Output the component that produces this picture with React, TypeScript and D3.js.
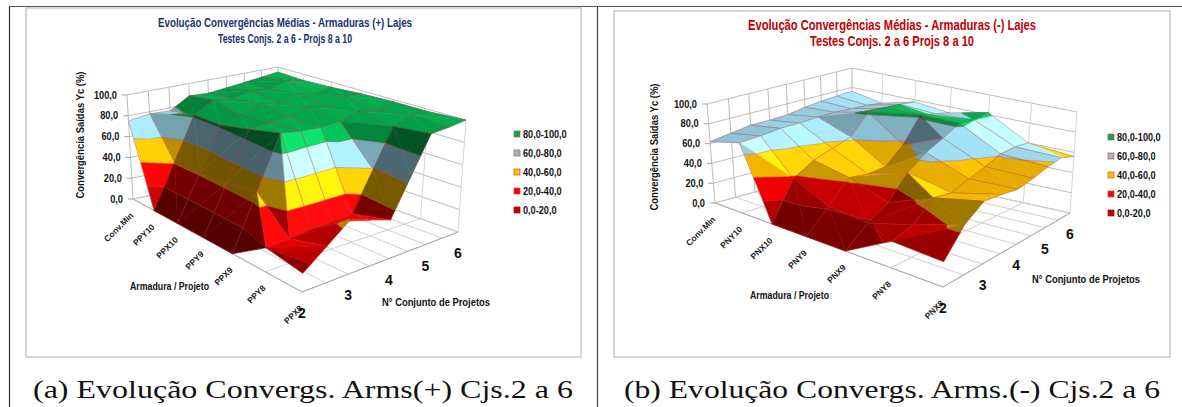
import React from "react";
import * as d3 from "d3";

const seriesLabels = ["2", "", "3", "", "4", "", "5", "", "6"];
const legendLabels = ["80,0-100,0", "60,0-80,0", "40,0-60,0", "20,0-40,0", "0,0-20,0"];
const zTicks = [0, 20, 40, 60, 80, 100];
const bandColors = ["#C00000", "#FF0000", "#FFC000", "#9EDCF0", "#00B050"];

const catsA = ["Conv.Min", "PPY10", "PPX10", "PPY9", "PPX9", "PPY8", "PPX8"];
const catsB = ["Conv.Min", "PNY10", "PNX10", "PNY9", "PNX9", "PNY8", "PNX8"];

// one row per category, one value per half-step of "Conjunto" (2, 2.5 ... 6)
const valuesA = [
  [75, 78, 77, 88, 87, 89, 91, 93, 95],
  [0, 41, 82, 92, 90, 94, 92, 97, 94],
  [0, 41, 82, 87, 94, 90, 96, 92, 95],
  [0, 44, 88, 90, 91, 96, 92, 98, 97],
  [0, 48, 95, 92, 91, 92, 97, 94, 98],
  [20, 21, 23, 24, 25, 59, 93, 99, 98],
  [15, 30, 45, 39, 33, 65, 97, 98, 100],
];
const valuesB = [
  [62, 65, 68, 68, 69, 72, 74, 75, 76],
  [70, 71, 73, 73, 74, 74, 73, 72, 70],
  [0, 38, 50, 56, 62, 82, 81, 80, 78],
  [0, 22, 43, 40, 41, 57, 82, 78, 74],
  [0, 18, 30, 52, 65, 73, 82, 80, 82],
  [24, 30, 47, 44, 50, 55, 61, 62, 60],
  [22, 45, 57, 55, 52, 55, 59, 61, 56],
];

type P = [number, number];
type Quad = { L: P; F: P; R: P; B: P };
type Geo = { floor: Quad; top: Quad };

const geoA: Geo = {
  floor: { L: [133, 199], F: [302, 292], R: [458, 232], B: [278, 168] },
  top: { L: [127, 95], F: [307, 167], R: [466, 120], B: [278, 67] },
};
const geoB: Geo = {
  floor: { L: [715, 203], F: [943, 287], R: [1070, 213], B: [852, 165] },
  top: { L: [707, 104], F: [946, 172], R: [1077, 112], B: [852, 68] },
};

// square -> quad homography; u runs L→F, v runs L→B
function homography(q: Quad) {
  const [x0, y0] = q.L, [x1, y1] = q.F, [x2, y2] = q.R, [x3, y3] = q.B;
  const dx1 = x1 - x2, dx2 = x3 - x2, sx = x0 - x1 + x2 - x3;
  const dy1 = y1 - y2, dy2 = y3 - y2, sy = y0 - y1 + y2 - y3;
  const den = dx1 * dy2 - dx2 * dy1;
  const g = (sx * dy2 - dx2 * sy) / den;
  const h = (dx1 * sy - sx * dy1) / den;
  const a = x1 - x0 + g * x1, b = x3 - x0 + h * x3, c = x0;
  const d = y1 - y0 + g * y1, e = y3 - y0 + h * y3, f = y0;
  return (u: number, v: number): P => {
    const w = g * u + h * v + 1;
    return [(a * u + b * v + c) / w, (d * u + e * v + f) / w];
  };
}

function projector(geo: Geo) {
  const hf = homography(geo.floor), ht = homography(geo.top);
  return (u: number, v: number, z: number): P => {
    const a = hf(u, v), b = ht(u, v), t = z / 100;
    return [a[0] + (b[0] - a[0]) * t, a[1] + (b[1] - a[1]) * t];
  };
}

type V3 = [number, number, number];

function clip(poly: V3[], lo: number, hi: number): V3[] {
  const pass = (pts: V3[], inside: (z: number) => boolean, lim: number) => {
    const out: V3[] = [];
    pts.forEach((p, k) => {
      const q = pts[(k + 1) % pts.length];
      const ip = inside(p[2]), iq = inside(q[2]);
      if (ip) out.push(p);
      if (ip !== iq) {
        const t = (lim - p[2]) / (q[2] - p[2]);
        out.push([p[0] + (q[0] - p[0]) * t, p[1] + (q[1] - p[1]) * t, lim]);
      }
    });
    return out;
  };
  const a = pass(poly, (z) => z >= lo, lo);
  return a.length ? pass(a, (z) => z <= hi, hi) : a;
}

function shaded(base: string, s: number) {
  const c = d3.rgb(base);
  const extra = Math.max(0, s - 1) * 55;
  return d3
    .rgb(
      Math.min(255, c.r * s + extra),
      Math.min(255, c.g * s + extra),
      Math.min(255, c.b * s + extra)
    )
    .formatHex();
}

function normal(a: V3, b: V3, d: V3) {
  const sc = 180;
  const e1 = [(b[0] - a[0]) * sc, (b[1] - a[1]) * sc * 1.3, b[2] - a[2]];
  const e2 = [(d[0] - a[0]) * sc, (d[1] - a[1]) * sc * 1.3, d[2] - a[2]];
  let nx = e1[1] * e2[2] - e1[2] * e2[1];
  let ny = e1[2] * e2[0] - e1[0] * e2[2];
  let nz = e1[0] * e2[1] - e1[1] * e2[0];
  if (nz < 0) { nx = -nx; ny = -ny; nz = -nz; }
  const len = Math.hypot(nx, ny, nz) || 1;
  return [nx / len, ny / len, nz / len];
}
const shadeOf = (n: number[]) => Math.min(1.22, Math.max(0.44, 1 + 0.3 * n[0] + 0.66 * n[1]));

type Item = { d: string; fill?: string; key: number; idx: number };

function surfaceItems(values: number[][], project: (u: number, v: number, z: number) => P) {
  const nc = values.length, ni = values[0].length;
  const uS = d3.scaleLinear().domain([0, nc - 1]).range([0, 1]);
  const vS = d3.scaleLinear().domain([0, ni - 1]).range([0, 1]);
  const out: Item[] = [];
  const line = d3.line();
  const bands = d3.range(5);
  let idx = 0;
  const path = (pts: V3[]) => line(pts.map((p) => project(p[0], p[1], p[2]))) as string;
  for (let c = 0; c < nc - 1; c++) {
    for (let i = 0; i < ni - 1; i++) {
      const pt = (cc: number, ii: number): V3 => [uS(cc), vS(ii), values[cc][ii]];
      const A = pt(c, i), B = pt(c + 1, i), C = pt(c + 1, i + 1), D = pt(c, i + 1);
      const useAC = A[2] + C[2] > B[2] + D[2];
      const tris: { v: V3[]; edges: V3[][] }[] = useAC
        ? [
            { v: [A, B, C], edges: [[A, B], [B, C]] },
            { v: [A, C, D], edges: [[C, D], [A, D]] },
          ]
        : [
            { v: [A, B, D], edges: [[A, B], [A, D]] },
            { v: [B, C, D], edges: [[B, C], [C, D]] },
          ];
      const n1 = normal(tris[0].v[0], tris[0].v[1], tris[0].v[2]);
      const n2 = normal(tris[1].v[0], tris[1].v[1], tris[1].v[2]);
      const fold = n1[0] * n2[0] + n1[1] * n2[1] + n1[2] * n2[2];
      const sharp = fold < 0.86;
      const nq = [(n1[0] + n2[0]) / 2, (n1[1] + n2[1]) / 2, (n1[2] + n2[2]) / 2];
      tris.forEach((tri, ti) => {
        const s = shadeOf(sharp ? (ti === 0 ? n1 : n2) : nq);
        const key = tri.v.reduce((acc, p) => acc + p[0] - p[1], 0);
        bands.forEach((bi) => {
          const poly = clip(tri.v, bi * 20, (bi + 1) * 20);
          if (poly.length < 3) return;
          out.push({ d: path(poly) + "Z", fill: shaded(bandColors[bi], s), key, idx: idx++ });
        });
        // grid edges
        tri.edges.forEach((e) => out.push({ d: path(e), key, idx: idx++ }));
        if (sharp && ti === 1) out.push({ d: path(useAC ? [A, C] : [B, D]), key, idx: idx++ });
        // band contour segments
        zTicks.slice(1, 5).forEach((lv) => {
          const seg: V3[] = [];
          tri.v.forEach((p, k) => {
            const q = tri.v[(k + 1) % 3];
            if ((p[2] - lv) * (q[2] - lv) < 0) {
              const t = (lv - p[2]) / (q[2] - p[2]);
              seg.push([p[0] + (q[0] - p[0]) * t, p[1] + (q[1] - p[1]) * t, lv]);
            }
          });
          if (seg.length === 2) out.push({ d: path(seg), key, idx: idx++ });
        });
      });
    }
  }
  return out.sort((p, q) => d3.ascending(p.key, q.key) || d3.ascending(p.idx, q.idx));
}

const GRID = "#b4b4b4";

// width of a bold digit string in em, used to condense labels to the reference's width
const emWidth = (t: string) =>
  d3.sum(t.split(""), (ch) => (ch === "," ? 0.278 : ch === "-" ? 0.333 : 0.556));

function Chart(props: {
  geo: Geo;
  values: number[][];
  cats: string[];
  title: string[];
  titleColor: string;
  titleSize: number;
  titleCx: number;
  titleY: number[];
  titleW: number[];
  legendX: number;
  legendY: number;
  legendStep: number;
  yTitle: [number, number];
  catTitle: [number, number];
  serTitle: [number, number];
}) {
  const { geo, values, cats } = props;
  const project = projector(geo);
  const ni = values[0].length, nc = values.length;
  const uS = d3.scaleLinear().domain([0, nc - 1]).range([0, 1]);
  const vS = d3.scaleLinear().domain([0, ni - 1]).range([0, 1]);
  const seg = (a: P, b: P, k: string, stroke = GRID, w = 0.9) => (
    <line key={k} x1={a[0]} y1={a[1]} x2={b[0]} y2={b[1]} stroke={stroke} strokeWidth={w} />
  );
  const items = surfaceItems(values, project);
  const bold = { fontFamily: "'Liberation Sans Narrow','Liberation Sans',Arial,sans-serif", fontWeight: 700 };
  return (
    <g>
      {/* walls */}
      {zTicks.map((z) => (
        <g key={"w" + z}>
          {seg(project(0, 0, z), project(0, 1, z), "l" + z)}
          {seg(project(0, 1, z), project(1, 1, z), "r" + z)}
        </g>
      ))}
      {d3.range(ni).map((i) => seg(project(0, vS(i), 0), project(0, vS(i), 100), "v" + i))}
      {d3.range(nc).map((c) => seg(project(uS(c), 1, 0), project(uS(c), 1, 100), "b" + c, "#d0d0d0"))}
      {/* floor */}
      {d3.range(ni).map((i) => seg(project(0, vS(i), 0), project(1, vS(i), 0), "fv" + i, "#c8c8c8"))}
      {d3.range(nc).map((c) => seg(project(uS(c), 0, 0), project(uS(c), 1, 0), "fu" + c, "#c8c8c8"))}
      {seg(project(0, 0, 0), project(1, 0, 0), "axc", "#a8a8a8", 1)}
      {seg(project(1, 0, 0), project(1, 1, 0), "axs", "#a8a8a8", 1)}
      {/* surface */}
      {items.map((p) =>
        p.fill ? (
          <path key={p.idx} d={p.d} fill={p.fill} stroke={p.fill} strokeWidth={0.5} />
        ) : (
          <path key={p.idx} d={p.d} fill="none" stroke="#b8323a" strokeOpacity={0.6} strokeWidth={0.6} />
        )
      )}
      {/* z ticks */}
      {zTicks.map((z) => {
        const p = project(0, 0, z);
        const t = d3.format(".1f")(z).replace(".", ",");
        return (
          <g key={"t" + z}>
            {seg([p[0] - 5, p[1]], p, "zt" + z, "#999")}
            <text
              x={p[0] - 10}
              y={p[1] + 3.5}
              textAnchor="end"
              fontSize={11}
              textLength={emWidth(t) * 11 * 0.84}
              lengthAdjust="spacingAndGlyphs"
              fill="#111"
              {...bold}
            >
              {t}
            </text>
          </g>
        );
      })}
      {/* category labels */}
      {cats.map((c, k) => {
        const p = project(uS(k), 0, 0);
        return (
          <text
            key={c}
            transform={`translate(${p[0] + 1},${p[1] + 17}) rotate(-45)`}
            textAnchor="end"
            fontSize={8.5}
            fill="#222"
            style={{ fontFamily: "'Liberation Sans',sans-serif", fontWeight: 700 }}
          >
            {c}
          </text>
        );
      })}
      {/* series labels */}
      {seriesLabels.map((s, i) => {
        if (!s) return null;
        const p = project(1, vS(i), 0);
        return (
          <text key={"s" + i} x={p[0]} y={p[1] + 26} textAnchor="middle" fontSize={14} fill="#111" {...bold}>
            {s}
          </text>
        );
      })}
      {/* axis titles */}
      <text
        transform={`translate(${props.yTitle[0]},${props.yTitle[1]}) rotate(-90)`}
        textAnchor="middle"
        fontSize={10}
        textLength={127}
        lengthAdjust="spacingAndGlyphs"
        fill="#111"
        {...bold}
      >
        Convergência Saídas Yc (%)
      </text>
      <text x={props.catTitle[0]} y={props.catTitle[1]} fontSize={10} textLength={79} lengthAdjust="spacingAndGlyphs" fill="#111" {...bold}>
        Armadura / Projeto
      </text>
      <text x={props.serTitle[0]} y={props.serTitle[1]} fontSize={10} textLength={108} lengthAdjust="spacingAndGlyphs" fill="#111" {...bold}>
        N° Conjunto de Projetos
      </text>
      {/* title */}
      {props.title.map((t, k) => (
        <text
          key={t}
          x={props.titleCx}
          y={props.titleY[k]}
          textAnchor="middle"
          fontSize={props.titleSize}
          textLength={props.titleW[k]}
          lengthAdjust="spacingAndGlyphs"
          fill={props.titleColor}
          {...bold}
        >
          {t}
        </text>
      ))}
      {/* legend */}
      {legendLabels.map((t, k) => {
        const y = props.legendY + k * props.legendStep;
        return (
          <g key={t}>
            <rect x={props.legendX} y={y - 3} width={6} height={6} fill={k === 1 ? "#8FBDD0" : bandColors[4 - k]} stroke={k === 4 ? "#a01010" : "#c05050"} strokeWidth={0.7} />
            <text
              x={props.legendX + 9}
              y={y + 3.5}
              fontSize={10.5}
              textLength={emWidth(t) * 10.5 * 0.87}
              lengthAdjust="spacingAndGlyphs"
              fill="#111"
              {...bold}
            >
              {t}
            </text>
          </g>
        );
      })}
    </g>
  );
}

const capA = "(a) Evolução Convergs. Arms(+) Cjs.2 a 6";
const capB = "(b) Evolução Convergs. Arms.(-) Cjs.2 a 6";

export default function App() {
  return (
    <svg
      width={1182}
      height={407}
      viewBox="0 0 1182 407"
      style={{ position: "absolute", left: 0, top: 0, background: "#fff" }}
    >
      <rect width={1182} height={407} fill="#fff" />
      <line x1={9.5} y1={6.5} x2={1182} y2={6.5} stroke="#555" strokeWidth={1} />
      <line x1={9.5} y1={6} x2={9.5} y2={407} stroke="#333" strokeWidth={1.2} />
      <line x1={597.5} y1={6} x2={597.5} y2={407} stroke="#444" strokeWidth={1.2} />
      <rect x={26} y={8} width={555} height={349} fill="#fff" stroke="#c8c8c8" strokeWidth={1.5} />
      <rect x={614} y={11} width={556} height={346} fill="#fff" stroke="#c8c8c8" strokeWidth={1.5} />
      <Chart
        geo={geoA}
        values={valuesA}
        cats={catsA}
        title={["Evolução Convergências Médias - Armaduras (+) Lajes", "Testes Conjs. 2 a 6 - Projs 8 a 10"]}
        titleColor="#17336F"
        titleSize={13}
        titleCx={285}
        titleY={[27, 43]}
        titleW={[254, 134]}
        legendX={514}
        legendY={134}
        legendStep={19}
        yTitle={[84, 135]}
        catTitle={[130, 290]}
        serTitle={[382, 306]}
      />
      <Chart
        geo={geoB}
        values={valuesB}
        cats={catsB}
        title={["Evolução Convergências Médias - Armaduras (-) Lajes", "Testes Conjs. 2 a 6 Projs 8 a 10"]}
        titleColor="#C00000"
        titleSize={14}
        titleCx={892}
        titleY={[30, 46]}
        titleW={[288, 164]}
        legendX={1108}
        legendY={137}
        legendStep={19}
        yTitle={[658, 147]}
        catTitle={[750, 299]}
        serTitle={[1032, 283]}
      />
      <text x={33} y={398} fontSize={25} textLength={540} lengthAdjust="spacingAndGlyphs" fill="#111" style={{ fontFamily: "'Liberation Serif',serif" }}>
        {capA}
      </text>
      <text x={624} y={398} fontSize={25} textLength={536} lengthAdjust="spacingAndGlyphs" fill="#111" style={{ fontFamily: "'Liberation Serif',serif" }}>
        {capB}
      </text>
    </svg>
  );
}
